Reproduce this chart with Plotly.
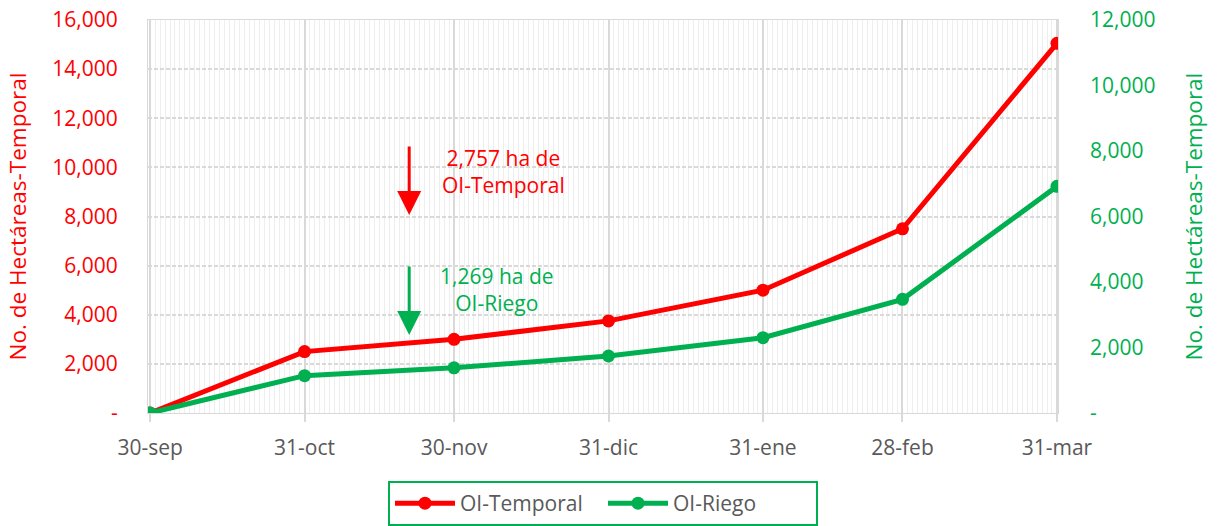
import plotly.graph_objects as go

dates = ["2024-09-30", "2024-10-31", "2024-11-30", "2024-12-31", "2025-01-31", "2025-02-28", "2025-03-31"]
date_labels = ["30-sep", "31-oct", "30-nov", "31-dic", "31-ene", "28-feb", "31-mar"]
temporal = [0, 2500, 3000, 3750, 5000, 7500, 15050]
riego = [0, 1140, 1380, 1740, 2300, 3470, 6920]

left_ticks = [0, 2000, 4000, 6000, 8000, 10000, 12000, 14000, 16000]
left_text = ["-", "2,000", "4,000", "6,000", "8,000", "10,000", "12,000", "14,000", "16,000"]
right_ticks = [0, 2000, 4000, 6000, 8000, 10000, 12000]
right_text = ["-", "2,000", "4,000", "6,000", "8,000", "10,000", "12,000"]
axis_title = "No. de Hectáreas-Temporal"

RED = "#FF0000"
GREEN = "#00B050"
GRAY = "#595959"
FONT = "Open Sans"
FS = 21

fig = go.Figure()
fig.add_trace(go.Scatter(x=dates, y=temporal, name="OI-Temporal", mode="lines+markers",
                         line=dict(color=RED, width=5), marker=dict(size=13, color=RED)))
fig.add_trace(go.Scatter(x=dates, y=riego, name="OI-Riego", mode="lines+markers", yaxis="y2",
                         line=dict(color=GREEN, width=5), marker=dict(size=13, color=GREEN)))

fig.update_layout(
    width=1218, height=526,
    margin=dict(l=148, r=160, t=20, b=113, autoexpand=False),
    paper_bgcolor="white", plot_bgcolor="white",
    font=dict(family=FONT, size=FS, color=GRAY),
    showlegend=True,
    legend=dict(orientation="h", x=0.5, xanchor="center", y=-0.173, yanchor="top",
                bordercolor=GREEN, borderwidth=2, font=dict(size=FS, color=GRAY),
                entrywidth=138, itemwidth=60),
    xaxis=dict(
        type="date", automargin=False,
        range=["2024-09-29 14:00", "2025-03-31 05:00"],
        tickmode="array", tickvals=dates, ticktext=date_labels,
        showgrid=True, gridcolor="#D9D9D9", gridwidth=1.5,
        ticks="outside", ticklen=8, tickcolor="#D9D9D9", tickwidth=1.5,
        ticklabelstandoff=8,
        showline=True, linecolor="#D9D9D9", linewidth=1, mirror=True,
        tickfont=dict(size=FS, color=GRAY),
        minor=dict(tickmode="linear", tick0="2024-09-30", dtick=86400000,
                   showgrid=True, gridcolor="#EEEEEE", gridwidth=1),
        zeroline=False,
    ),
    yaxis=dict(
        automargin=False, ticklabeloverflow="allow",
        range=[0, 16000], tickmode="array", tickvals=left_ticks, ticktext=left_text,
        showgrid=True, gridcolor="#D9D9D9", gridwidth=1.5, griddash="4px,2px",
        tickfont=dict(size=FS, color=RED), ticklabelstandoff=25,
        showline=True, linecolor="#D9D9D9", linewidth=1, mirror=True,
        zeroline=False,
    ),
    yaxis2=dict(
        automargin=False, ticklabeloverflow="allow",
        range=[0, 12000], overlaying="y", side="right", tickmode="array",
        tickvals=right_ticks, ticktext=right_text, showgrid=False,
        tickfont=dict(size=FS, color=GREEN), ticklabelstandoff=31,
        zeroline=False,
    ),
)

# axis titles
fig.add_annotation(x=-0.1429, y=0.5, xref="paper", yref="paper", showarrow=False,
                   text=axis_title, textangle=-90, font=dict(size=22.5, color=RED),
                   xanchor="center", yanchor="middle")
fig.add_annotation(x=1.1484, y=0.5, xref="paper", yref="paper", showarrow=False,
                   text=axis_title, textangle=-90, font=dict(size=22.5, color=GREEN),
                   xanchor="center", yanchor="middle")

fig.add_annotation(x="2024-11-21", y=8060, ax="2024-11-21", ay=10910,
                   xref="x", yref="y", axref="x", ayref="y",
                   showarrow=True, arrowhead=2, arrowsize=1.6, arrowwidth=3, arrowcolor=RED, text="")
fig.add_annotation(x="2024-11-21", y=3175, ax="2024-11-21", ay=6025,
                   xref="x", yref="y", axref="x", ayref="y",
                   showarrow=True, arrowhead=2, arrowsize=1.6, arrowwidth=3, arrowcolor=GREEN, text="")
fig.add_annotation(x="2024-12-10", y=9830, xref="x", yref="y", showarrow=False,
                   text="2,757 ha de<br>OI-Temporal", font=dict(size=FS, color=RED), align="center")
fig.add_annotation(x="2024-12-08 14:00", y=5010, xref="x", yref="y", showarrow=False,
                   text="1,269 ha de<br>OI-Riego", font=dict(size=FS, color=GREEN), align="center")

fig.write_html("out.html", config={"displayModeBar": False},
               post_script="document.body.style.margin='0';")
